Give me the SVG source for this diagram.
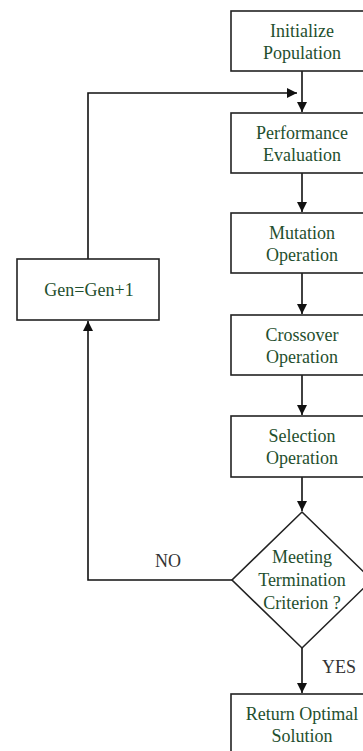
<svg xmlns="http://www.w3.org/2000/svg" width="363" height="751" viewBox="0 0 363 751">
<style>
.box{fill:#fff;stroke:#222;stroke-width:1.6}
.t{font-family:"Liberation Serif","Times New Roman",serif;font-size:18px;fill:#1f4f2e;text-anchor:middle}
.lbl{font-family:"Liberation Serif","Times New Roman",serif;font-size:18px;fill:#333;text-anchor:middle}
.c{fill:none;stroke:#111;stroke-width:1.6}
</style>
<defs>
<marker id="ah" viewBox="0 0 10 10" refX="10" refY="5" markerWidth="10" markerHeight="10" markerUnits="userSpaceOnUse" orient="auto">
<path d="M0,0 L10,5 L0,10 Z" fill="#111"/>
</marker>
</defs>
<rect width="363" height="751" fill="#fff"/>
<g id="connectors">
<path class="c" d="M302,71 V112" marker-end="url(#ah)"/>
<path class="c" d="M302,173 V212" marker-end="url(#ah)"/>
<path class="c" d="M302,273 V314" marker-end="url(#ah)"/>
<path class="c" d="M302,375 V415" marker-end="url(#ah)"/>
<path class="c" d="M302,477 V511" marker-end="url(#ah)"/>
<path class="c" d="M302,648 V693" marker-end="url(#ah)"/>
<path class="c" d="M232,580 H88 V321" marker-end="url(#ah)"/>
<path class="c" d="M88,259 V93 H297" marker-end="url(#ah)"/>
<text class="lbl" x="168" y="567">NO</text>
<text class="lbl" x="339" y="673">YES</text>
</g>
<g id="init">
<rect class="box" x="231" y="11" width="142" height="60"/>
<text class="t" x="302" y="37">Initialize</text>
<text class="t" x="302" y="59">Population</text>
</g>
<g id="perf">
<rect class="box" x="231" y="113" width="142" height="60"/>
<text class="t" x="302" y="139">Performance</text>
<text class="t" x="302" y="161">Evaluation</text>
</g>
<g id="mut">
<rect class="box" x="231" y="213" width="142" height="60"/>
<text class="t" x="302" y="239">Mutation</text>
<text class="t" x="302" y="261">Operation</text>
</g>
<g id="cross">
<rect class="box" x="231" y="315" width="142" height="60"/>
<text class="t" x="302" y="341">Crossover</text>
<text class="t" x="302" y="363">Operation</text>
</g>
<g id="sel">
<rect class="box" x="231" y="416" width="142" height="61"/>
<text class="t" x="302" y="442">Selection</text>
<text class="t" x="302" y="464">Operation</text>
</g>
<g id="decision">
<path class="box" d="M302,512 L372,580 L302,648 L232,580 Z"/>
<text class="t" x="302" y="563">Meeting</text>
<text class="t" x="302" y="586">Termination</text>
<text class="t" x="302" y="609">Criterion ?</text>
</g>
<g id="ret">
<rect class="box" x="231" y="694" width="142" height="62"/>
<text class="t" x="302" y="720">Return Optimal</text>
<text class="t" x="302" y="742">Solution</text>
</g>
<g id="gen">
<rect class="box" x="17" y="259" width="142" height="61"/>
<text class="t" x="89" y="296">Gen=Gen+1</text>
</g>
</svg>
